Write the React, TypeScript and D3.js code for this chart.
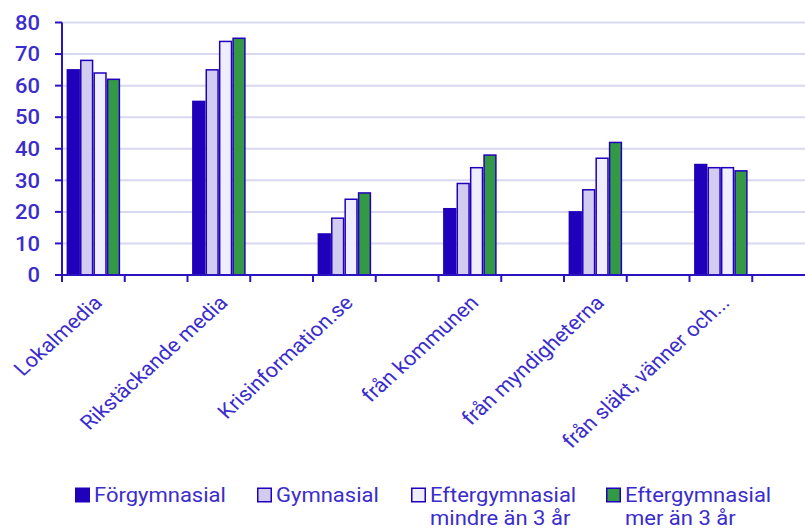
import { useMemo } from "react";
import * as d3 from "d3";

const categories = [
  "Lokalmedia",
  "Rikstäckande media",
  "Krisinformation.se",
  "från kommunen",
  "från myndigheterna",
  "från släkt, vänner och...",
];

const seriesNames = [
  "Förgymnasial",
  "Gymnasial",
  "Eftergymnasial mindre än 3 år",
  "Eftergymnasial mer än 3 år",
];

// legend text, split into lines as in the original
const legendLines = [
  ["Förgymnasial"],
  ["Gymnasial"],
  ["Eftergymnasial", "mindre än 3 år"],
  ["Eftergymnasial", "mer än 3 år"],
];

const forgymnasial = [65, 55, 13, 21, 20, 35];
const gymnasial = [68, 65, 18, 29, 27, 34];
const eftergymKort = [64, 74, 24, 34, 37, 34];
const eftergymLang = [62, 75, 26, 38, 42, 33];

const yTicks = [0, 10, 20, 30, 40, 50, 60, 70, 80];

const seriesValues = [forgymnasial, gymnasial, eftergymKort, eftergymLang];
const fills = ["#1f00bb", "#d1ccf0", "#eeeeff", "#339944"];

const W = 805;
const H = 530;
const AXIS = "#2a14c0";
const TEXT = "#3b2ccc";
const FONT = "Roboto, 'Noto Sans', sans-serif";
// the source picture is a little wider than tall, text is stretched with it
const SX = 1.1;

export default function App() {
  const left = 62;
  const bottom = 275;
  const top = 22.5;
  const right = 815;

  const { x0, x1, y } = useMemo(() => {
    const x0 = d3
      .scaleBand<string>()
      .domain(categories)
      .range([left, right])
      .paddingInner(0.5)
      .paddingOuter(0.25)
      .align(0);
    const x1 = d3
      .scaleBand<string>()
      .domain(seriesNames)
      .range([0, x0.bandwidth()])
      .paddingInner(0.12)
      .paddingOuter(0.4);
    const y = d3.scaleLinear().domain([0, 80]).range([bottom, top]);
    return { x0, x1, y };
  }, []);

  // tick marks at both edges of every category band
  const xTickPos: number[] = [];
  categories.forEach((c) => {
    xTickPos.push(x0(c)!);
    xTickPos.push(x0(c)! + x0.bandwidth());
  });

  const legendX = [75, 257, 411, 606];

  return (
    <svg
      width={W}
      height={H}
      style={{ position: "absolute", left: 0, top: 0, background: "#fff" }}
      fontFamily={FONT}
    >
      {/* gridlines */}
      {yTicks.map((t) => (
        <line
          key={t}
          x1={left}
          x2={W}
          y1={y(t)}
          y2={y(t)}
          stroke="#d9d8f1"
          strokeWidth={2}
        />
      ))}

      {/* bars */}
      {categories.map((c, ci) => (
        <g key={c} transform={`translate(${x0(c)},0)`}>
          {seriesNames.map((s, si) => {
            const v = seriesValues[si][ci];
            return (
              <rect
                key={s}
                x={x1(s)}
                y={y(v)}
                width={x1.bandwidth()}
                height={y(0) - y(v)}
                fill={fills[si]}
                stroke="#2200bb"
                strokeWidth={1.5}
              />
            );
          })}
        </g>
      ))}

      {/* y axis */}
      <line x1={left} x2={left} y1={top} y2={bottom} stroke={AXIS} strokeWidth={2} />
      {yTicks.map((t) => (
        <g key={t}>
          <line x1={left - 7} x2={left} y1={y(t)} y2={y(t)} stroke={AXIS} strokeWidth={2} />
          <text
            transform={`translate(40,${y(t)}) scale(${SX},1)`}
            dy="0.36em"
            textAnchor="end"
            fontSize={20}
            fontWeight={500}
            fill={TEXT}
          >
            {t}
          </text>
        </g>
      ))}

      {/* x axis */}
      <line x1={left} x2={W} y1={bottom} y2={bottom} stroke={AXIS} strokeWidth={2} />
      {xTickPos.map((p, i) => (
        <line key={i} x1={p} x2={p} y1={bottom} y2={bottom + 7} stroke={AXIS} strokeWidth={2} />
      ))}
      {categories.map((c) => {
        const cx = x0(c)! + x0.bandwidth() / 2 + 10;
        const cy = bottom + 29;
        return (
          <text
            key={c}
            transform={`translate(${cx},${cy}) scale(${SX},1) rotate(-45)`}
            textAnchor="end"
            fontSize={20}
            fill={TEXT}
          >
            {c}
          </text>
        );
      })}

      {/* legend */}
      {legendLines.map((lines, i) => (
        <g key={i} transform={`translate(${legendX[i]},0)`}>
          <rect
            x={0.75}
            y={488.25}
            width={13.5}
            height={13.5}
            fill={fills[i]}
            stroke="#2200bb"
            strokeWidth={1.5}
          />
          {lines.map((ln, li) => (
            <text
              key={li}
              transform={`translate(19,${502 + li * 22.5}) scale(${SX},1)`}
              fontSize={20}
              fill={TEXT}
            >
              {ln}
            </text>
          ))}
        </g>
      ))}
    </svg>
  );
}
